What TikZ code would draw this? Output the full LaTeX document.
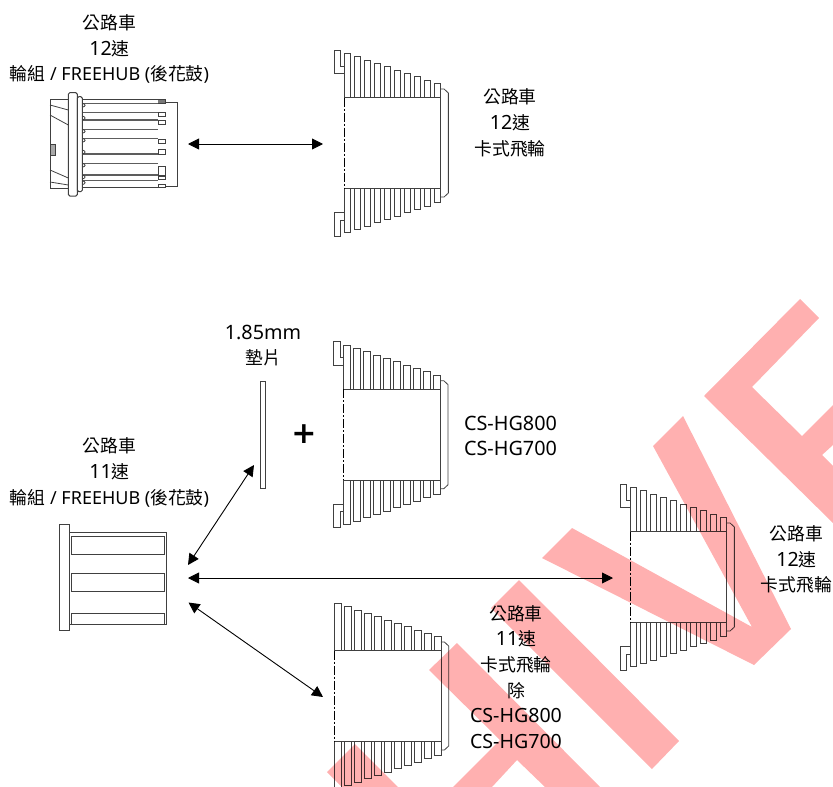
\documentclass[tikz,border=0pt]{standalone}
\usepackage{fontspec}
\setmainfont{Noto Sans}
\newfontfamily\cjk{Noto Sans CJK TC}
\newfontfamily\plusfont{DejaVu Sans}
\usetikzlibrary{arrows.meta}
\definecolor{ln}{HTML}{404040}
\definecolor{wm}{HTML}{FFB0B0}
\newcommand{\cj}[1]{{\fontsize{17.8}{25.7}\selectfont\cjk #1}}
\newcommand{\dg}[1]{{\fontsize{19.6}{25.7}\selectfont #1}}
% cassette: {x left}{y centre}{teeth}{first tooth half height}{notch 0/1}
\newcommand{\cassette}[5]{%
\begin{scope}[shift={(#1,#2)},part]
 \pgfmathsetmacro{\wid}{10*#3-3.33}
 \pgfmathtruncatemacro{\last}{#3-1}
 \foreach \k in {0,...,\last}{
  \pgfmathsetmacro{\xa}{10*\k}
  \pgfmathsetmacro{\xb}{10*\k+6.67}
  \pgfmathsetmacro{\hh}{#4-3.33*\k}
  \draw (\xa,-45.3) -- (\xa,-\hh) -- (\xb,-\hh) -- (\xb,-45.3);
  \draw (\xa,45.3) -- (\xa,\hh) -- (\xb,\hh) -- (\xb,45.3);
 }
 \ifnum#5=1
  \draw (0,-69.7) -- (-10,-69.7) -- (-10,-93) -- (-3.33,-93) -- (-3.33,-77) -- (0,-77);
  \draw (0,69.7) -- (-10,69.7) -- (-10,93) -- (-3.33,93) -- (-3.33,77) -- (0,77);
 \fi
 \draw[line width=1pt] (0,-45.3) -- (\wid,-45.3) (0,45.3) -- (\wid,45.3);
 \draw (\wid,-45.3) -- (\wid,45.3);
 \draw[line width=1pt,black,dash pattern=on 9pt off 2pt on 2pt off 2pt] (0,-45.3) -- (0,45.3);
 \draw (\wid,-54) -- (\wid+3.4,-54) -- (\wid+7.7,-50) -- (\wid+7.7,50) -- (\wid+3.4,54) -- (\wid,54);
\end{scope}}
\tikzset{
 part/.style={draw=ln,line width=.8pt},
 lbl/.style={align=center,inner sep=0pt,font=\fontsize{18}{25.7}\selectfont},
 big/.style={align=center,inner sep=0pt,font=\fontsize{19.8}{25.7}\selectfont},
 link/.style={draw=black,line width=.9pt,{Stealth[length=11pt,width=11pt,inset=0pt]}-{Stealth[length=11pt,width=11pt,inset=0pt]}},
 wmark/.style={fill=wm,draw=none}
}
\begin{document}
\begin{tikzpicture}[x=1pt,y=-1pt]
\useasboundingbox (0,0) rectangle (833,787);
\clip (0,0) rectangle (833,787);
% ---- 12-speed freehub
\begin{scope}[part]
 \draw (68.3,99.3) -- (50,99.3) -- (50,188.3) -- (68.3,188.3);
 \draw (50,105) -- (68.3,110) (50,115) -- (68.3,125) (50,170) -- (68.3,178) (50,182) -- (68.3,185);
 \draw[fill=ln!45] (50.7,144.3) rectangle (55,155.7);
 \draw[rounded corners=1.5pt,line width=1pt] (68.3,92.7) rectangle (77.3,196);
 \draw[rounded corners=1.5pt,line width=1pt] (77.3,96.7) rectangle (82.3,191.7);
 \draw[line width=1.5pt] (82.3,99.3) -- (158.3,99.3) (82.3,187.3) -- (158.3,187.3);
 \foreach \yy in {103.3,112.3,120,129.3,138.3,154,163.3,175,180.7}
  \draw[line width=1.15pt,draw=ln!85] (83,\yy) -- (158.3,\yy);
 \foreach \ya/\yb in {99.3/103.3,112.3/116,120.5/124.3,139.3/143.3,149.3/154,166.3/175,176/179.3,184/187.3}
  \draw (158.3,\ya) rectangle (165.3,\yb);
 \fill[ln!70] (158.3,100.3) rectangle (165.3,103.3);
 \foreach \ya in {103.3,116,129.3,138.3,150,163.3,175,180.7}
  \draw (82.3,\ya) .. controls (86,\ya+1) and (86,\ya+3) .. (82.3,\ya+4);
 \draw (165.3,102.7) -- (177,102.7) -- (177,186) -- (165.3,186);
\end{scope}
% ---- 11-speed freehub
\begin{scope}[part]
 \draw (59.7,524) rectangle (69.3,630.7);
 \draw (69.3,532.7) -- (166.7,532.7) -- (166.7,624) -- (69.3,624);
 \draw (71.7,536.7) rectangle (164,554);
 \draw (71.7,573.3) rectangle (164,591);
 \draw (71.7,624) -- (71.7,613.3) -- (164,613.3) -- (164,624);
 \draw (260.7,381) rectangle (265.3,488);
\end{scope}
% ---- cassettes
\cassette{344}{143}{10}{89.7}{1}
\cassette{343.7}{434.7}{10}{89.7}{1}
\cassette{630}{577}{10}{89.7}{1}
\cassette{334.3}{696}{11}{92.7}{0}
% ---- connector ends
\coordinate (hubA) at (188,144);
\coordinate (casA) at (323,144);
\coordinate (hubB) at (188,565);
\coordinate (shim) at (254,465);
\coordinate (hubC) at (188,578);
\coordinate (casC) at (613,578);
\coordinate (hubD) at (188.5,602.5);
\coordinate (casD) at (323,697);
\draw[link] (hubA) -- (casA);
\draw[link] (hubB) -- (shim);
\draw[link] (hubC) -- (casC);
\draw[link] (hubD) -- (casD);
% ---- labels
\node[lbl] (t1) at (109.5,49) {\cj{公路車}\\\dg{12}\cj{速}\\\cj{輪組} / FREEHUB (\cj{後花鼓})};
\node[lbl] (t2) at (510,123) {\cj{公路車}\\\dg{12}\cj{速}\\\cj{卡式飛輪}};
\node[big] (t3) at (263,345.5) {1.85mm\\\cj{墊片}};
\node[big] (t4) at (510.5,436) {CS-HG800\\CS-HG700};
\node[lbl] (t5) at (109.5,472.5) {\cj{公路車}\\\dg{11}\cj{速}\\\cj{輪組} / FREEHUB (\cj{後花鼓})};
\node[lbl] (t6) at (796.5,559.5) {\cj{公路車}\\\dg{12}\cj{速}\\\cj{卡式飛輪}};
\node[lbl] (t7) at (516,677) {\cj{公路車}\\\dg{11}\cj{速}\\\cj{卡式飛輪}\\\cj{除}\\\dg{CS-HG800}\\\dg{CS-HG700}};
\node[inner sep=0pt,font=\fontsize{30}{30}\selectfont\plusfont\bfseries] (plus) at (304,434.5) {+};
% ---- watermark
\begin{scope}[blend mode=multiply]
 \fill[wmark] (800,299) -- (819,318) -- (752,387) -- (802,436) -- (833,405) -- (833,445) -- (822,455) -- (833,466) -- (833,523) -- (704,396) -- cycle;
 \fill[wmark] (683,416) -- (791,629) -- (754,665) -- (542,558) -- (572,528) -- (752,627) -- (653,446) -- cycle;
 \fill[wmark] (519,580) -- (679,741) -- (652,769) -- (491,608) -- cycle;
 \fill[wmark] (457,643) -- (600,787) -- (545,787) -- (517,760) -- (492,787) -- (453,787) -- (500,740) -- (429,670) -- cycle;
 \fill[wmark] (355,744) -- (398,787) -- (342,787) -- (327,772) -- cycle;
\end{scope}
\end{tikzpicture}
\end{document}
